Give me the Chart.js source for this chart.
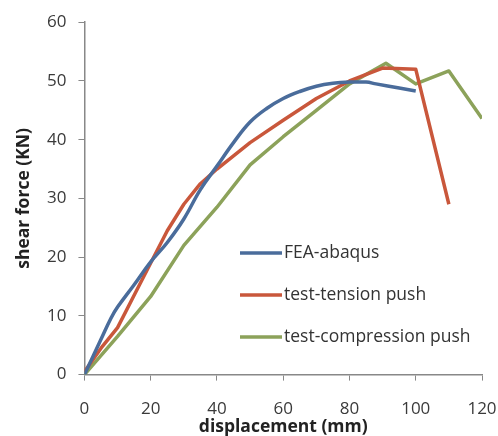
<!DOCTYPE html>
<html>
<head>
<meta charset="utf-8">
<script src="https://cdn.jsdelivr.net/npm/chart.js@4.4.0/dist/chart.umd.min.js"></script>
<style>
  html, body { margin: 0; padding: 0; background: #fff; }
  #wrap { width: 498px; height: 436px; }
</style>
</head>
<body>
<div id="wrap"><canvas id="chart" width="498" height="436"></canvas></div>
<script>
// valores
var feaX = [0, 5, 8, 10, 15, 20, 25, 30, 35, 40, 45, 50, 55, 60, 65, 70, 75, 80, 85, 88, 95, 100];
var feaY = [0, 6, 9.6, 11.5, 15.3, 19.2, 22.5, 26.5, 31.5, 35.5, 39.5, 43, 45.3, 47, 48.2, 49.1, 49.6, 49.8, 49.8, 49.5, 48.8, 48.3];

var tensionX = [0, 5, 10, 15, 20, 25, 30, 35, 40, 50, 60, 70, 80, 90, 100, 110];
var tensionY = [0.5, 4.5, 8, 13.5, 19, 24.5, 29, 32.5, 35, 39.5, 43.3, 47, 50, 52.2, 52, 29];

var compX = [0, 10, 20, 30, 40, 50, 60, 70, 80, 91, 100, 110, 120];
var compY = [0, 6.5, 13.3, 22, 28.5, 35.7, 40.5, 45, 49.5, 53, 49.5, 51.7, 43.6];

var nombres = ['FEA-abaqus', 'test-tension push', 'test-compression push'];
var colores = ['#4a6c9b', '#c9573b', '#8ca25a'];

var xTicks = [0, 20, 40, 60, 80, 100, 120];
var yTicks = [0, 10, 20, 30, 40, 50, 60];

var fuente = '"Open Sans", sans-serif';

function puntos(xs, ys) {
    return xs.map(function (x, i) { return { x: x, y: ys[i] }; });
}

// leyenda dentro del area del grafico
var leyendaInterna = {
    id: 'leyendaInterna',
    afterDraw: function (chart) {
        var ctx = chart.ctx;
        var x0 = 240, y0 = 253, dy = 42;
        ctx.save();
        ctx.font = '17.5px ' + fuente;
        ctx.textBaseline = 'middle';
        chart.data.datasets.forEach(function (ds, i) {
            var y = y0 + i * dy;
            ctx.strokeStyle = ds.borderColor;
            ctx.lineWidth = 3.5;
            ctx.beginPath();
            ctx.moveTo(x0, y);
            ctx.lineTo(x0 + 42, y);
            ctx.stroke();
            ctx.fillStyle = '#333';
            ctx.fillText(ds.label, x0 + 44, y);
        });
        ctx.restore();
    }
};

var datasets = [puntos(feaX, feaY), puntos(tensionX, tensionY), puntos(compX, compY)].map(function (d, i) {
    return {
        label: nombres[i],
        data: d,
        borderColor: colores[i],
        backgroundColor: colores[i],
        borderWidth: 3.5,
        pointRadius: 0,
        showLine: true,
        tension: i === 0 ? 0.4 : 0,
        borderJoinStyle: 'round'
    };
});

new Chart(document.getElementById('chart').getContext('2d'), {
    type: 'scatter',
    data: { datasets: datasets },
    options: {
        responsive: false,
        animation: false,
        layout: { padding: { top: 14, right: 0, left: 14, bottom: 0 } },
        plugins: {
            legend: { display: false },
            tooltip: { enabled: false }
        },
        scales: {
            x: {
                type: 'linear',
                min: 0, max: 120,
                afterBuildTicks: function (s) { s.ticks = xTicks.map(function (v) { return { value: v }; }); },
                afterFit: function (s) { s.paddingRight = 16; },
                grid: { drawOnChartArea: false, drawTicks: true, tickLength: 6, color: '#888' },
                border: { display: true, color: '#888', width: 1.5 },
                ticks: { color: '#3a3a3a', font: { family: fuente, size: 17 }, padding: 18, maxRotation: 0 },
                title: { display: true, text: 'displacement (mm)', color: '#222', font: { family: fuente, size: 17.5, weight: 'bold' }, padding: { top: -20, bottom: -2 } }
            },
            y: {
                type: 'linear',
                min: 0, max: 60,
                afterBuildTicks: function (s) { s.ticks = yTicks.map(function (v) { return { value: v }; }); },
                grid: { drawOnChartArea: false, drawTicks: true, tickLength: 6, color: '#888' },
                border: { display: true, color: '#888', width: 1.5 },
                ticks: { color: '#3a3a3a', font: { family: fuente, size: 17 }, padding: 12 },
                title: { display: true, text: 'shear force (KN)', color: '#222', font: { family: fuente, size: 17.5, weight: 'bold' }, padding: { top: 0, bottom: 0 } }
            }
        }
    },
    plugins: [leyendaInterna]
});
</script>
</body>
</html>
